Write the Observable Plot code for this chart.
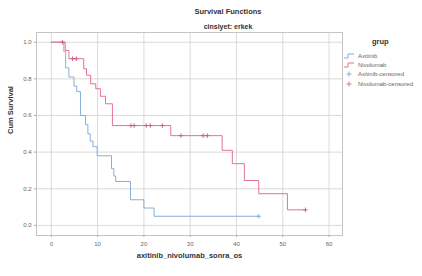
<!DOCTYPE html>
<html>
<head>
<meta charset="utf-8">
<script src="https://cdn.jsdelivr.net/npm/d3@7"></script>
<script src="https://cdn.jsdelivr.net/npm/@observablehq/plot@0.6"></script>
<style>
  html, body { margin: 0; padding: 0; background: #fff; }
  #wrap { position: relative; width: 422px; height: 276px; font-family: "Liberation Sans", Arial, sans-serif; color: #333; }
  #chart { position: absolute; left: 0; top: 0; }
  .ttl { position: absolute; left: 0; width: 456px; text-align: center; font-weight: bold; font-size: 7.5px; color: #333; }
  #legend { position: absolute; left: 343px; top: 37px; font-size: 6px; color: #666; }
  #legend .lt { font-weight: bold; font-size: 7.5px; color: #333; margin-left: 29px; margin-bottom: 5px; }
  #legend .row { display: flex; align-items: center; height: 9.3px; }
  #legend svg { margin-right: 2px; }
</style>
</head>
<body>
<div id="wrap">
  <div id="chart"></div>
  <div class="ttl" style="top:7px;">Survival Functions</div>
  <div class="ttl" style="top:23px;font-size:7px;">cinsiyet: erkek</div>
  <div id="legend"></div>
</div>
<script>
// Axitinib (blue) Kaplan-Meier steps
const axiTimes = [0, 2.7, 3.1, 3.8, 4.9, 5.5, 6.3, 7.4, 7.9, 8.4, 9.0, 9.9, 13.0, 13.5, 13.9, 17.1, 20.0, 22.2, 44.8];
const axiSurv  = [1.0, 0.95, 0.86, 0.81, 0.76, 0.73, 0.60, 0.55, 0.50, 0.46, 0.43, 0.38, 0.31, 0.27, 0.24, 0.14, 0.095, 0.05, 0.05];
const axiCensTimes = [44.8];
const axiCensSurv  = [0.05];

// Nivolumab (red) Kaplan-Meier steps
const nivoTimes = [0, 3.0, 3.8, 7.0, 7.6, 8.5, 9.6, 10.6, 11.7, 13.2, 25.8, 36.9, 39.1, 41.7, 44.8, 51.0, 54.9];
const nivoSurv  = [1.0, 0.955, 0.91, 0.855, 0.82, 0.773, 0.746, 0.705, 0.664, 0.545, 0.49, 0.41, 0.337, 0.245, 0.173, 0.085, 0.085];
const nivoCensTimes = [2.4, 4.6, 5.4, 17.2, 17.9, 20.5, 21.4, 24.0, 28.0, 32.8, 33.7, 54.9];
const nivoCensSurv  = [1.0, 0.91, 0.91, 0.545, 0.545, 0.545, 0.545, 0.545, 0.49, 0.49, 0.49, 0.085];

const xTicks = [0, 10, 20, 30, 40, 50, 60];
const yTicks = [0, 0.2, 0.4, 0.6, 0.8, 1.0];
const groups = ["Axitinib", "Nivolumab", "Axitinib-censored", "Nivolumab-censored"];
const blue = "#86afd9", red = "#e2748d";

const axi = axiTimes.map((t, i) => ({t, s: axiSurv[i]}));
const nivo = nivoTimes.map((t, i) => ({t, s: nivoSurv[i]}));
const axiC = axiCensTimes.map((t, i) => ({t, s: axiCensSurv[i]}));
const nivoC = nivoCensTimes.map((t, i) => ({t, s: nivoCensSurv[i]}));

const chart = Plot.plot({
  width: 422, height: 276,
  marginLeft: 36, marginRight: 80, marginTop: 32, marginBottom: 41,
  style: {fontFamily: "Liberation Sans, Arial, sans-serif", fontSize: "6px", color: "#666", background: "#fff"},
  x: {domain: [-3.2, 62.9], ticks: xTicks, tickSize: 2, label: null},
  y: {domain: [-0.055, 1.053], ticks: yTicks, tickFormat: d3.format(".1f"), tickSize: 2, label: null},
  marks: [
    Plot.gridX(xTicks, {stroke: "#d0d0d0", strokeOpacity: 1, strokeWidth: 0.8}),
    Plot.gridY(yTicks, {stroke: "#d0d0d0", strokeOpacity: 1, strokeWidth: 0.8}),
    Plot.frame({stroke: "#c4c4c4"}),
    Plot.axisX({ticks: xTicks, tickSize: 2, tickPadding: 4, stroke: "#aaa"}),
    Plot.axisY({ticks: yTicks, tickSize: 2, tickPadding: 3, tickFormat: d3.format(".1f"), stroke: "#aaa"}),
    Plot.line(axi, {x: "t", y: "s", curve: "step-after", stroke: blue, strokeWidth: 1}),
    Plot.line(nivo, {x: "t", y: "s", curve: "step-after", stroke: red, strokeWidth: 1}),
    Plot.dot(axiC, {x: "t", y: "s", symbol: "plus", r: 1.6, stroke: blue, strokeWidth: 1}),
    Plot.dot(nivoC, {x: "t", y: "s", symbol: "plus", r: 1.6, stroke: "#c65c75", strokeWidth: 0.9}),
    Plot.text(["Cum Survival"], {frameAnchor: "left", dx: -26, rotate: -90, fontSize: 7.5, fontWeight: "bold", fill: "#333"}),
    Plot.text(["axitinib_nivolumab_sonra_os"], {frameAnchor: "bottom", dy: 22, fontSize: 7.5, fontWeight: "bold", fill: "#333"})
  ]
});
document.getElementById("chart").appendChild(chart);

// legend
const lg = document.getElementById("legend");
lg.innerHTML = `<div class="lt">grup</div>` + groups.map((g, i) => {
  const c = i % 2 === 0 ? blue : red;
  const sym = i < 2
    ? `<path d="M1,6 H5 V2 H11" fill="none" stroke="${c}" stroke-width="1"/>`
    : `<path d="M6,1.5 V6.5 M3.5,4 H8.5" fill="none" stroke="${c}" stroke-width="1"/>`;
  return `<div class="row"><svg width="13" height="8">${sym}</svg><span>${g}</span></div>`;
}).join("");
</script>
</body>
</html>
